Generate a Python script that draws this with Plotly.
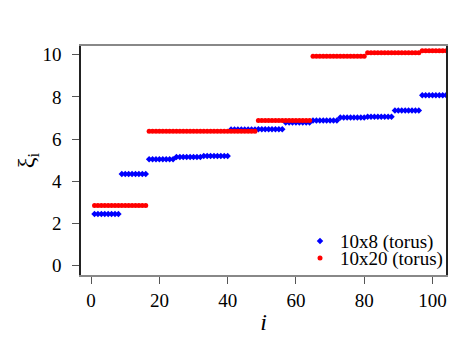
import plotly.graph_objects as go

# step levels, one row per plateau
blue_xi = ([2.45] * 8 + [4.34] * 8 + [5.04] * 8 + [5.15] * 8 + [5.20] * 8 +
           [6.45] * 8 + [6.47] * 8 + [6.78] * 8 + [6.88] * 8 + [7.02] * 8 +
           [7.06] * 8 + [7.35] * 8 + [8.08] * 8)
red_xi = ([2.85] * 16 + [6.37] * 32 + [6.88] * 16 + [9.93] * 16 +
          [10.09] * 16 + [10.19] * 8)

blue_i = list(range(1, len(blue_xi) + 1))
red_i = list(range(1, len(red_xi) + 1))

x_ticks = [0, 20, 40, 60, 80, 100]
y_ticks = [0, 2, 4, 6, 8, 10]

SERIF = "Liberation Serif, Times New Roman, serif"

fig = go.Figure()
fig.add_trace(go.Scatter(x=blue_i, y=blue_xi, mode="markers", name="10x8 (torus)",
                         legend="legend",
                         marker=dict(symbol="diamond", size=5, color="#0000ff")))
fig.add_trace(go.Scatter(x=red_i, y=red_xi, mode="markers", name="10x20 (torus)",
                         legend="legend2",
                         marker=dict(symbol="circle", size=5, color="#ff0000")))

leg = dict(xanchor="left", yanchor="middle", bgcolor="rgba(0,0,0,0)",
           font=dict(size=19), itemwidth=30, borderwidth=0)

fig.update_layout(
    width=460, height=345,
    margin=dict(l=81, r=12, t=46, b=70),
    paper_bgcolor="white", plot_bgcolor="white",
    font=dict(family=SERIF, size=19, color="black"),
    showlegend=True,
    legend=dict(leg, x=0.60, y=0.148),
    legend2=dict(leg, x=0.60, y=0.074),
)
fig.update_xaxes(range=[-2.96, 103.96], tickvals=x_ticks, showgrid=False, zeroline=False,
                 showline=True, linecolor="#888888", linewidth=1.5, mirror=True,
                 ticks="outside", ticklen=7, tickcolor="#555555", automargin=False,
                 title=dict(text="<i>i</i>", font=dict(size=24), standoff=4))
fig.update_yaxes(range=[-0.44, 10.41], tickvals=y_ticks, showgrid=False, zeroline=False,
                 showline=True, linecolor="#222222", linewidth=1.5, mirror=True,
                 ticks="outside", ticklen=7, tickcolor="#555555", automargin=False,
                 ticklabelstandoff=7,
                 title=dict(text="ξ<sub>i</sub>", font=dict(size=24), standoff=1))

# page body has a default 8px margin; drop it so the figure sits at the corner
fig.write_html("out.html", config={"displayModeBar": False},
               post_script="document.body.style.margin='0';")
